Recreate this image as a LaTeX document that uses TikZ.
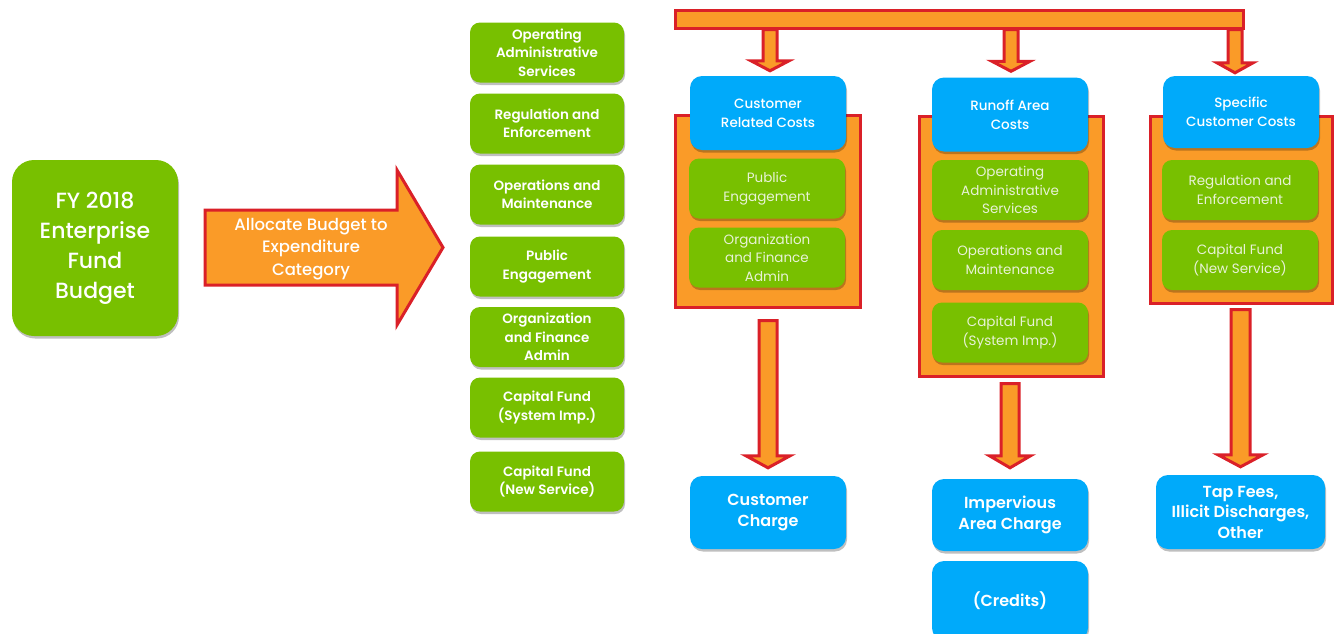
\documentclass[tikz,border=0pt]{standalone}
\usepackage{fontspec}
\setmainfont{Poppins}[BoldFont={Poppins SemiBold}]
\newfontfamily\medfont{Poppins Medium}
\usetikzlibrary{calc, shadows}

\definecolor{leaf}{RGB}{120,192,0}
\definecolor{sky}{RGB}{0,170,250}
\definecolor{amber}{RGB}{250,155,40}
\definecolor{brick}{RGB}{218,32,40}
\definecolor{paleleaf}{RGB}{232,242,214}

\tikzset{
  softshadow/.style={drop shadow={shadow xshift=1pt, shadow yshift=-2.5pt, opacity=0.25, fill=black}},
  catbox/.style={fill=leaf, rounded corners=10pt, minimum width=154, minimum height=60,
    text=white, align=center, font=\fontsize{13.5}{18.5}\selectfont\bfseries, softshadow},
  itembox/.style={fill=leaf, rounded corners=10pt, minimum width=156, minimum height=60,
    text=paleleaf, align=center, font=\fontsize{13.5}{18.5}\selectfont, softshadow},
  costbox/.style={fill=sky, rounded corners=12pt, minimum width=156, minimum height=74,
    text=white, align=center, font=\fontsize{13.5}{19}\selectfont\medfont, softshadow},
  chargebox/.style={fill=sky, rounded corners=12pt, minimum width=156, minimum height=73,
    text=white, align=center, font=\fontsize{16}{20.5}\selectfont\bfseries, softshadow},
  container/.style={fill=amber, draw=brick, line width=3pt, inner sep=0pt},
  blockarrow/.style={fill=amber, draw=brick, line width=3pt, line join=miter}
}

% block arrow pointing down: top, tip, shaft half width, head half width, head length
\newcommand{\blockdown}[5]{%
  \draw[blockarrow] let \p1=#1, \p2=#2 in
    (\x2-#3,\y1) -- (\x2+#3,\y1) -- (\x2+#3,\y2+#5) -- (\x2+#4,\y2+#5)
    -- (\x2,\y2) -- (\x2-#4,\y2+#5) -- (\x2-#3,\y2+#5) -- cycle;}

\begin{document}
\begin{tikzpicture}[x=1pt, y=-1pt]
  \useasboundingbox (0,0) rectangle (1337,633);
  \begin{scope}
  \clip (0,0) rectangle (1337,633);

  % Fund budget
  \node[fill=leaf, rounded corners=22pt, minimum width=166, minimum height=176,
    text=white, align=center, font=\fontsize{22}{30}\selectfont\medfont, softshadow]
    (budget) at (95,248) {FY 2018\\Enterprise\\Fund\\Budget};

  % Allocation arrow
  \draw[blockarrow] (205,210) -- (397,210) -- (397,170) -- (443,247.5)
    -- (397,325) -- (397,285) -- (205,285) -- cycle;
  \node[text=white, align=center, font=\fontsize{16.5}{22.5}\selectfont\medfont]
    (alloc) at (311,249) {Allocate Budget to\\Expenditure\\Category};

  % Expenditure categories
  \node[catbox] (opadmin) at (547,52.5) {Operating\\Administrative\\Services};
  \node[catbox] (regenf)  at (547,123.5) {Regulation and\\Enforcement};
  \node[catbox] (opmaint) at (547,194.5) {Operations and\\Maintenance};
  \node[catbox] (pubeng)  at (547,266.5) {Public\\Engagement};
  \node[catbox] (orgfin)  at (547,337) {Organization\\and Finance\\Admin};
  \node[catbox] (capsys)  at (547,407.5) {Capital Fund\\(System Imp.)};
  \node[catbox] (capnew)  at (547,481.5) {Capital Fund\\(New Service)};

  % Distribution bar
  \node[container, minimum width=568, minimum height=18] (bar) at (959,19) {};

  % Cost containers
  \node[container, minimum width=185, minimum height=192] (contA) at (767.5,211) {};
  \node[container, minimum width=184, minimum height=260] (contB) at (1011,246) {};
  \node[container, minimum width=182, minimum height=187] (contC) at (1241,209.5) {};

  % Cost headers
  \node[costbox] (custcost)   at (768,113)    {Customer\\Related Costs};
  \node[costbox] (runoffcost) at (1010,114.5) {Runoff Area\\Costs};
  \node[costbox, minimum height=72] (speccost) at (1241,112) {Specific\\Customer Costs};

  % Items per cost
  \node[itembox] (custpub) at (767,188.5) {Public\\Engagement};
  \node[itembox] (custorg) at (767,257.5) {Organization\\and Finance\\Admin};
  \node[itembox] (runopadm) at (1010,190) {Operating\\Administrative\\Services};
  \node[itembox] (runopm)   at (1010,260) {Operations and\\Maintenance};
  \node[itembox] (runcap)   at (1010,332.5) {Capital Fund\\(System Imp.)};
  \node[itembox] (specreg)  at (1240,190) {Regulation and\\Enforcement};
  \node[itembox] (speccap)  at (1240,260) {Capital Fund\\(New Service)};

  % Charges
  \node[chargebox] (custchg) at (768,512.5) {Customer\\Charge};
  \node[chargebox, minimum height=72] (impchg) at (1010,515) {Impervious\\Area Charge};
  \node[chargebox, minimum height=79] (credits) at (1010,600.5) {(Credits)};
  \node[chargebox, minimum width=169, minimum height=74] (tapchg) at (1240.5,512)
    {Tap Fees,\\Illicit Discharges,\\Other};

  % Arrows from bar
  \blockdown{(bar.south)}{($(custcost.north)+(2,-5)$)}{7pt}{19pt}{10pt}
  \blockdown{(bar.south)}{($(runoffcost.north)+(1,-6)$)}{7pt}{19pt}{10pt}
  \blockdown{(bar.south)}{($(speccost.north)+(-6,-3)$)}{7pt}{18pt}{10pt}
  \node[container, minimum width=568, minimum height=18] at (bar) {};

  % Arrows to charges
  \blockdown{($(contA.south)+(0,12)$)}{($(custchg.north)+(0,-8)$)}{9pt}{22pt}{12pt}
  \blockdown{($(contB.south)+(0,6)$)}{($(impchg.north)+(0,-11)$)}{9pt}{20.5pt}{12pt}
  \blockdown{($(contC.south)+(0,5)$)}{($(tapchg.north)+(0,-8)$)}{9.5pt}{22.5pt}{12pt}
  \end{scope}
\end{tikzpicture}
\end{document}
